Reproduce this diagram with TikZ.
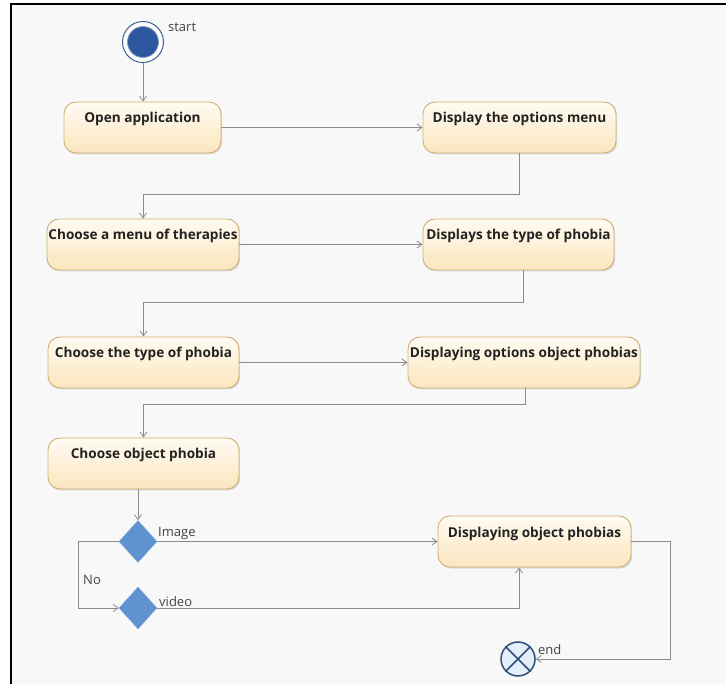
\documentclass[tikz,border=0pt]{standalone}
\usepackage{fontspec}
\setmainfont{Open Sans}
\usetikzlibrary{shapes.geometric,arrows.meta,calc,shadows}
\definecolor{bgc}{HTML}{F9F8F9}
\definecolor{boxtop}{HTML}{FFFBF2}
\definecolor{boxbot}{HTML}{FBE6BE}
\definecolor{boxline}{HTML}{CFAE72}
\definecolor{linec}{HTML}{8C8C8C}
\definecolor{startc}{HTML}{2C56A0}
\definecolor{ringc}{HTML}{3E5F8F}
\definecolor{diac}{HTML}{5E93CF}
\definecolor{endfill}{HTML}{E4EEF8}
\definecolor{endline}{HTML}{2F4F78}
\definecolor{txtc}{HTML}{222222}
\tikzset{
  actbox/.style={draw=boxline, line width=0.9pt, rounded corners=12pt,
    top color=boxtop, bottom color=boxbot, minimum height=51pt,
    inner xsep=0pt, inner ysep=10pt, text height=11pt, text depth=20pt,
    font=\fontsize{13.6}{16}\selectfont\bfseries, text=txtc,
    drop shadow={shadow xshift=1.2pt, shadow yshift=-1.5pt, opacity=0.25}},
  decision/.style={diamond, fill=diac, draw=diac!80!white, minimum width=38pt,
    minimum height=42pt, inner sep=0pt, aspect=0.9},
  flow/.style={draw=linec, line width=0.9pt},
  arr/.style={flow, -{Straight Barb[length=5pt,width=7pt,line width=0.8pt]}},
  lbl/.style={font=\fontsize{13}{15}\selectfont, text=txtc!85!white, inner sep=0pt}
}
\begin{document}
\begin{tikzpicture}[x=1pt,y=-1pt]
\useasboundingbox (0,0) rectangle (726,684);
\fill[white] (0,0) rectangle (726,684);
\fill[bgc] (11,4) rectangle (726,684);
\draw[black, line width=2pt] (11,684) -- (11,4) -- (726,4);

% start
\node[circle, draw=ringc, line width=1pt, fill=white, minimum size=41pt, inner sep=0pt] (start) at (143,42) {};
\node[circle, fill=startc, draw=ringc!60!white, line width=0.8pt, minimum size=31pt, inner sep=0pt] (startin) at (start.center) {};
\node[lbl, anchor=west] (startlbl) at (168,27) {start};

% activities
\node[actbox, minimum width=157pt] (open) at (142.5,127.5) {Open application};
\node[actbox, minimum width=193pt] (disp) at (519.5,127.5) {Display the options menu};
\node[actbox, minimum width=192pt] (menu) at (143,244.5) {Choose a menu of therapies};
\node[actbox, minimum width=191pt] (types) at (518.5,244.5) {Displays the type of phobia};
\node[actbox, minimum width=191pt] (ctype) at (143.5,362.5) {Choose the type of phobia};
\node[actbox, minimum width=232pt] (dopt) at (524,362.5) {Displaying options object phobias};
\node[actbox, minimum width=191pt] (cobj) at (143.5,463.5) {Choose object phobia};
\node[actbox, minimum width=193pt] (dobj) at (534.5,541.5) {Displaying object phobias};

% decisions
\node[decision] (d1) at (138,541.5) {};
\node[decision] (d2) at (138,608) {};

% end
\node[circle, draw=endline, line width=1.5pt, fill=endfill, minimum size=34pt, inner sep=0pt] (end) at (518,659) {};
\draw[endline, line width=1.5pt] (end.north west) -- (end.south east) (end.north east) -- (end.south west);
\node[lbl, anchor=west] (endlbl) at (538,650) {end};

% connectors
\draw[arr] (start.south) -- (start.south |- open.north);
\draw[arr] (open.east) -- (disp.west);
\draw[arr] (disp.south) -- ++(0,41) -| (menu.north);
\draw[arr] (menu.east) -- (types.west);
\draw[arr] ($(types.south)+(5,0)$) -- ++(0,32) -| (ctype.north);
\draw[arr] (ctype.east) -- (dopt.west);
\draw[arr] ($(dopt.south)+(1,0)$) -- ++(0,16) -| (cobj.north);
\draw[arr] (d1.north |- cobj.south) -- (d1.north);
\draw[arr] (d1.east) -- (dobj.west);
\draw[arr] (d1.west) -- ++(-40,0) |- (d2.west);
\draw[arr] (d2.east) -| ($(dobj.south)+(-15.5,0)$);
\draw[arr] (dobj.east) -- ++(39,0) |- (end.east);

% guard labels
\node[lbl, anchor=south west] (imglbl) at (158,539.5) {Image};
\node[lbl, anchor=south west] (vidlbl) at (159,607) {video};
\node[lbl, anchor=west] (nolbl) at (83,580) {No};
\end{tikzpicture}
\end{document}
